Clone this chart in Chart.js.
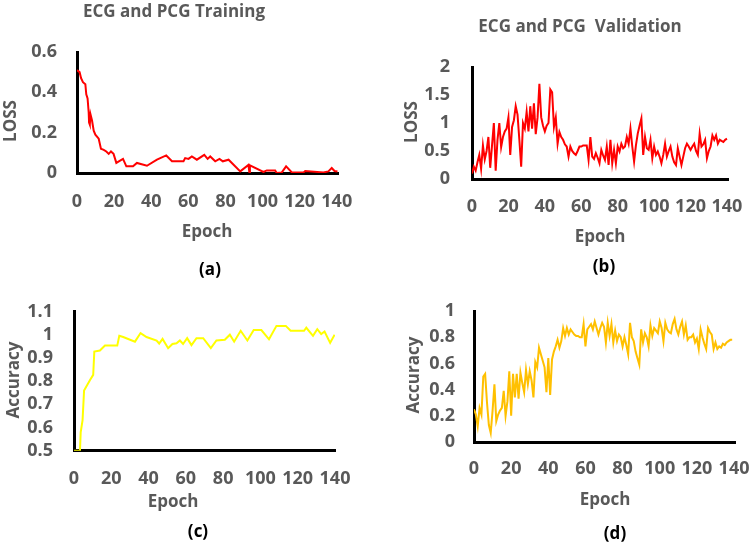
<!DOCTYPE html>
<html>
<head>
<meta charset="utf-8">
<script src="https://cdn.jsdelivr.net/npm/chart.js@4.4.1/dist/chart.umd.min.js"></script>
<style>
  body { margin: 0; background: #fff; }
  #wrap { position: relative; width: 754px; height: 542px; overflow: hidden;
          font-family: "Open Sans", sans-serif; font-weight: bold; color: #595959; }
  canvas { position: absolute; left: 0; top: 0; pointer-events: none; }
  .t { position: absolute; white-space: pre; transform: translate(-50%, -50%); font-size: 17px; line-height: 1; }
  .v { transform: translate(-50%, -50%) rotate(-90deg); }
  .sub { color: #000; font-size: 17px; }
</style>
</head>
<body>
<div id="wrap">
  <canvas id="chartA" width="754" height="542"></canvas>
  <canvas id="chartB" width="754" height="542"></canvas>
  <canvas id="chartC" width="754" height="542"></canvas>
  <canvas id="chartD" width="754" height="542"></canvas>

  <div class="t" style="left:174px;top:10px">ECG and PCG Training</div>
  <div class="t v" style="left:9px;top:121px">LOSS</div>
  <div class="t" style="left:207px;top:230px">Epoch</div>
  <div class="t sub" style="left:210px;top:268px">(a)</div>

  <div class="t" style="left:580px;top:25px">ECG and PCG  Validation</div>
  <div class="t v" style="left:410px;top:122px">LOSS</div>
  <div class="t" style="left:600px;top:235px">Epoch</div>
  <div class="t sub" style="left:604px;top:265px">(b)</div>

  <div class="t v" style="left:12px;top:380px">Accuracy</div>
  <div class="t" style="left:173px;top:500px">Epoch</div>
  <div class="t sub" style="left:198px;top:530px">(c)</div>

  <div class="t v" style="left:412px;top:375px">Accuracy</div>
  <div class="t" style="left:605px;top:498px">Epoch</div>
  <div class="t sub" style="left:615px;top:532px">(d)</div>
</div>

<script>
// tick values
const epochTicks = [0, 20, 40, 60, 80, 100, 120, 140];
const trainLossTicks = [0, 0.2, 0.4, 0.6];
const valLossTicks = [0, 0.5, 1, 1.5, 2];
const trainAccTicks = [0.5, 0.6, 0.7, 0.8, 0.9, 1, 1.1];
const valAccTicks = [0, 0.2, 0.4, 0.6, 0.8, 1];

// (a) training loss
const trainLossEpoch = [0, 1.4, 2.2, 3.2, 4.5, 5.0, 5.7, 6.3, 6.5, 6.8, 7.0, 7.3, 8.1, 9.0, 9.9, 11.7, 12.9,
  14.4, 15.8, 17.1, 18.3, 19.7, 21.2, 23, 24.8, 26.6, 30.2, 32.3, 37.7, 43.1, 48.1, 51.2, 57.4, 58.3, 60.1,
  61.9, 64.6, 68.6, 70.4, 71.8, 74.5, 76.8, 78.6, 81.7, 88, 92.4, 92.9, 93.2, 100.5, 102.3, 106.8, 107.7,
  110.4, 112.7, 115.8, 122.1, 123, 132.8, 135.5, 137.3, 138.8, 140.4];
const trainLoss = [0.51, 0.50, 0.47, 0.45, 0.44, 0.39, 0.37, 0.30, 0.25, 0.28, 0.24, 0.29, 0.26, 0.21, 0.19, 0.17, 0.12,
  0.115, 0.107, 0.095, 0.107, 0.095, 0.05, 0.06, 0.07, 0.033, 0.033, 0.05, 0.036, 0.066, 0.087, 0.058, 0.058, 0.074, 0.07,
  0.082, 0.066, 0.09, 0.07, 0.082, 0.058, 0.07, 0.058, 0.066, 0.008, 0.04, 0.003, 0.038, 0.005, 0.013, 0.013, 0.0,
  0.003, 0.033, 0.003, 0.003, 0.01, 0.003, 0.008, 0.025, 0.01, 0.008];

// (b) validation loss, one value per epoch
const valLoss = [0.10, 0.22, 0.15, 0.30, 0.43, 0.18, 0.60, 0.35, 0.50, 0.75,
  0.20, 0.60, 1.00, 0.15, 0.70, 1.00, 0.57, 0.75, 0.85, 0.90,
  1.10, 0.43, 0.93, 1.05, 1.30, 1.15, 0.70, 0.22, 1.00, 0.90,
  1.20, 0.85, 1.30, 0.90, 1.35, 0.80, 1.10, 1.70, 1.10, 0.95,
  0.85, 0.95, 1.00, 1.60, 1.55, 0.93, 1.10, 0.63, 0.84, 0.75,
  0.70, 0.62, 0.58, 0.40, 0.58, 0.50, 0.46, 0.43, 0.50, 0.58,
  0.58, 0.60, 0.60, 0.60, 0.34, 0.75, 0.40, 0.36, 0.46, 0.38,
  0.28, 0.52, 0.42, 0.34, 0.58, 0.25, 0.70, 0.28, 0.52, 0.28,
  0.58, 0.49, 0.63, 0.55, 0.58, 0.75, 0.63, 0.90, 0.58, 0.31,
  0.60, 0.81, 0.95, 1.08, 0.43, 0.75, 0.55, 0.52, 0.70, 0.37,
  0.58, 0.43, 0.49, 0.40, 0.28, 0.43, 0.63, 0.40, 0.50, 0.58,
  0.40, 0.30, 0.25, 0.55, 0.40, 0.25, 0.40, 0.55, 0.63, 0.58,
  0.52, 0.58, 0.63, 0.50, 0.43, 0.81, 0.58, 0.62, 0.70, 0.37,
  0.50, 0.58, 0.78, 0.70, 0.78, 0.63, 0.70, 0.68, 0.66, 0.70,
  0.72];

// (c) training accuracy
const trainAccEpoch = [0, 3.2, 3.6, 4.6, 5.4, 8.6, 10.3, 10.9, 13.9, 16.6, 23.2, 24.3, 26.4, 32.7, 35.7, 38.9,
  44.3, 45.7, 47.5, 50.5, 52.8, 55, 56.8, 58.5, 60.7, 63, 65.7, 69.3, 73.4, 76.4, 80.9, 83.6, 85.9, 89.4, 93,
  96.4, 100.5, 104.6, 108.6, 113.6, 116.2, 123.4, 124.6, 128.2, 130.5, 132.6, 134.4, 137.4, 139.8];
const trainAcc = [0.5, 0.5, 0.58, 0.632, 0.759, 0.805, 0.827, 0.927, 0.932, 0.953, 0.953, 0.995, 0.99, 0.97, 1.007, 0.99,
  0.975, 0.962, 0.982, 0.942, 0.96, 0.963, 0.975, 0.96, 0.985, 0.955, 0.985, 0.985, 0.942, 0.975, 0.978, 1.0, 0.97, 1.017, 0.975,
  1.02, 1.02, 0.98, 1.038, 1.038, 1.017, 1.017, 1.03, 0.995, 1.024, 1.003, 1.014, 0.965, 1.0];

// (d) validation accuracy, one value per epoch
const valAcc = [0.25, 0.21, 0.12, 0.26, 0.21, 0.50, 0.52, 0.30, 0.13, 0.07,
  0.24, 0.44, 0.16, 0.21, 0.24, 0.26, 0.39, 0.20, 0.31, 0.54,
  0.20, 0.52, 0.34, 0.52, 0.33, 0.53, 0.45, 0.38, 0.55, 0.44,
  0.54, 0.47, 0.34, 0.61, 0.57, 0.72, 0.67, 0.62, 0.57, 0.38,
  0.64, 0.36, 0.63, 0.69, 0.73, 0.78, 0.72, 0.77, 0.87, 0.81,
  0.87, 0.82, 0.86, 0.84, 0.82, 0.81, 0.81, 0.80, 0.80, 0.90,
  0.73, 0.86, 0.88, 0.90, 0.86, 0.92, 0.87, 0.82, 0.87, 0.91,
  0.88, 0.76, 0.91, 0.81, 0.90, 0.76, 0.85, 0.77, 0.82, 0.80,
  0.73, 0.80, 0.74, 0.67, 0.91, 0.80, 0.77, 0.69, 0.64, 0.59,
  0.86, 0.76, 0.83, 0.80, 0.73, 0.89, 0.81, 0.87, 0.85, 0.83,
  0.92, 0.87, 0.77, 0.91, 0.86, 0.84, 0.83, 0.90, 0.94, 0.86,
  0.82, 0.88, 0.92, 0.82, 0.89, 0.78, 0.80, 0.80, 0.82, 0.76,
  0.79, 0.71, 0.86, 0.80, 0.75, 0.71, 0.87, 0.84, 0.82, 0.71,
  0.76, 0.71, 0.73, 0.72, 0.75, 0.74, 0.76, 0.77, 0.78, 0.78];

Chart.defaults.font.family = "'Open Sans', sans-serif";
Chart.defaults.font.size = 18;
Chart.defaults.font.weight = "bold";
Chart.defaults.color = "#595959";

function toPoints(xs, ys) {
  return ys.map(function (y, i) {
    return { x: xs ? xs[i] : i, y: y };
  });
}

// box = [left, top, right, bottom] of the plot area on the page
function makePanel(id, points, color, box, xMax, yTicks, xPad, yPad) {
  const yW = 60;
  const xH = 40;
  return new Chart(document.getElementById(id), {
    type: "line",
    data: {
      datasets: [
        {
          data: points,
          borderColor: color,
          borderWidth: 2,
          pointRadius: 0,
          tension: 0,
          fill: false,
        },
      ],
    },
    options: {
      responsive: false,
      animation: false,
      events: [],
      layout: {
        padding: {
          left: box[0] - yW,
          top: box[1],
          right: 754 - box[2],
          bottom: 542 - box[3] - xH,
        },
      },
      plugins: { legend: { display: false }, tooltip: { enabled: false } },
      scales: {
        x: {
          type: "linear",
          min: 0,
          max: xMax,
          grid: { display: false, drawTicks: false },
          border: { display: true, color: "#000", width: 3 },
          ticks: { padding: xPad, maxRotation: 0, autoSkip: false },
          afterBuildTicks: function (s) {
            s.ticks = epochTicks.map(function (v) { return { value: v }; });
          },
          afterFit: function (s) {
            s.height = xH;
            s.paddingLeft = 0;
            s.paddingRight = 0;
          },
        },
        y: {
          min: yTicks[0],
          max: yTicks[yTicks.length - 1],
          grid: { display: false, drawTicks: false },
          border: { display: true, color: "#000", width: 3 },
          ticks: {
            padding: yPad,
            autoSkip: false,
            callback: function (v) { return String(Math.round(v * 10) / 10); },
          },
          afterBuildTicks: function (s) {
            s.ticks = yTicks.map(function (v) { return { value: v }; });
          },
          afterFit: function (s) {
            s.width = yW;
            s.paddingTop = 0;
            s.paddingBottom = 0;
          },
        },
      },
    },
  });
}

makePanel("chartA", toPoints(trainLossEpoch, trainLoss), "#ff0000", [77, 52, 338.6, 173], 141, trainLossTicks, 18, 20);
makePanel("chartB", toPoints(null, valLoss), "#ff0000", [472, 67, 728.8, 179], 141, valLossTicks, 17, 22);
makePanel("chartC", toPoints(trainAccEpoch, trainAcc), "#ffff00", [74, 311.5, 335, 450.7], 140, trainAccTicks, 17, 21);
makePanel("chartD", toPoints(null, valAcc), "#ffc000", [474, 311, 735.9, 442], 141, valAccTicks, 16, 19);
</script>
</body>
</html>
